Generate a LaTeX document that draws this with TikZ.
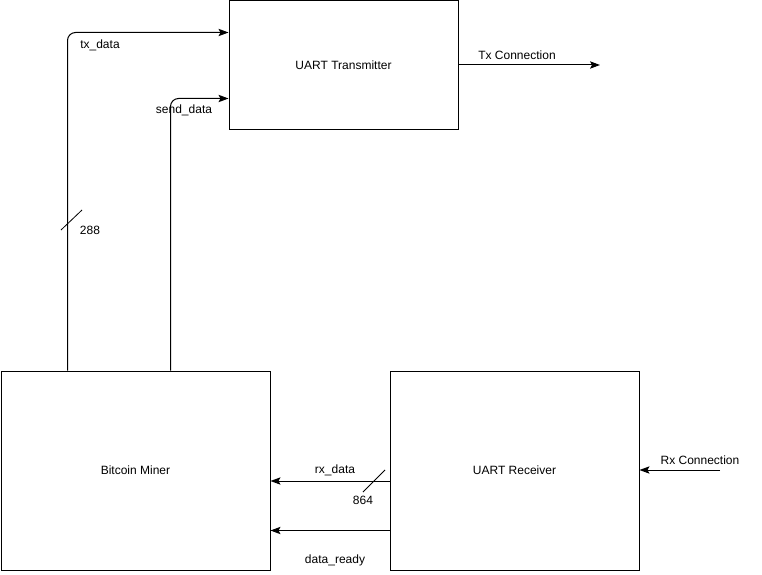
\documentclass[tikz,border=0pt]{standalone}
\usepackage{fontspec}
\setmainfont{Liberation Sans}
\usetikzlibrary{arrows.meta,calc}
\tikzset{
  blk/.style={draw, line width=0.75pt, rectangle, inner sep=0pt, font=\fontsize{9}{11}\selectfont},
  arr/.style={draw, line width=0.75pt, -{Stealth[length=7.5pt,width=5.5pt,inset=1.5pt]}},
  lbl/.style={inner sep=0pt, font=\fontsize{9}{11}\selectfont},
  bus/.style={draw, line width=0.6pt},
}
\begin{document}
\begin{tikzpicture}[x=0.75pt,y=-0.75pt]
\useasboundingbox (0,0) rectangle (762,574);
% blocks
\node[blk, minimum width=229*0.75pt, minimum height=128*0.75pt] (tx) at (343.5,65) {UART Transmitter};
\node[blk, minimum width=269*0.75pt, minimum height=199*0.75pt] (miner) at (135.5,470.5) {Bitcoin Miner};
\node[blk, minimum width=249*0.75pt, minimum height=199*0.75pt] (rx) at (514.5,470.5) {UART Receiver};
% free ends
\coordinate (txout) at (600,65);
\coordinate (rxin) at (720,470);
% tx_data
\draw[arr, rounded corners=8*0.75pt] ($(miner.north west)+(67,0)$) |- ($(tx.north west)+(0,32)$);
\node[lbl] (ltxdata) at (100,45) {tx\_data};
\coordinate (s1a) at (61,230);
\coordinate (s1b) at (82,210);
\draw[bus] (s1a) -- (s1b);
\node[lbl] (l288) at (90,230) {288};
% send_data
\draw[arr, rounded corners=8*0.75pt] ($(miner.north west)+(170,0)$) |- ($(tx.north west)+(0,98)$);
\node[lbl] (lsend) at (184,110) {send\_data};
% Tx connection
\draw[arr] (tx.east |- txout) -- (txout);
\node[lbl] (ltxc) at (517,55) {Tx Connection};
% Rx connection
\draw[arr] (rxin) -- (rx.east |- rxin);
\node[lbl] (lrxc) at (700,460) {Rx Connection};
% rx_data
\draw[arr] ($(rx.west)+(0,10.5)$) -- ($(miner.east)+(0,10.5)$);
\node[lbl] (lrxdata) at (335,470) {rx\_data};
\coordinate (s2a) at (363,492);
\coordinate (s2b) at (385,470);
\draw[bus] (s2a) -- (s2b);
\node[lbl] (l864) at (363,500) {864};
% data_ready
\draw[arr] ($(rx.west)+(0,60)$) -- ($(miner.east)+(0,60)$);
\node[lbl] (ldr) at (335,560) {data\_ready};
\end{tikzpicture}
\end{document}
